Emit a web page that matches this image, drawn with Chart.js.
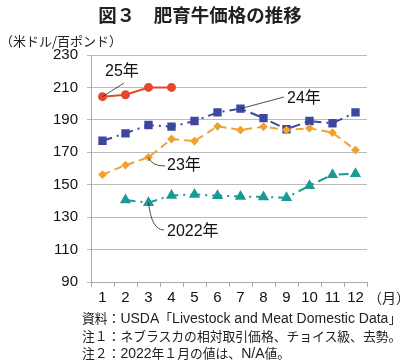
<!DOCTYPE html>
<html>
<head>
<meta charset="utf-8">
<script src="https://cdn.jsdelivr.net/npm/chart.js@4"></script>
<style>
  body { margin: 0; background: #fff; font-family: "Liberation Sans", "Noto Sans CJK JP", sans-serif; }
  #lienzo { position: relative; width: 400px; height: 364px; }
  canvas { position: absolute; left: 0; top: 0; }
  .texto { position: absolute; color: #222; white-space: nowrap; }
  .lat { font-family: "Liberation Sans", sans-serif; font-size: 14px; }
</style>
</head>
<body>
<div id="lienzo">
  <canvas id="graficoPrecios" width="400" height="364"></canvas>
  <div class="texto" style="left:0;width:400px;text-align:center;top:1px;font-size:18.5px;font-weight:bold;font-family:'Noto Sans CJK JP',sans-serif;">図３　肥育牛価格の推移</div>
  <div class="texto" style="left:0;top:31px;font-size:13px;font-family:'Noto Sans CJK JP',sans-serif;">（米ドル/百ポンド）</div>
  <div class="texto" style="left:368px;top:287px;font-size:14px;font-family:'Noto Sans CJK JP',sans-serif;">（月）</div>
  <div class="texto" style="left:82px;top:309px;font-size:12.8px;font-family:'Noto Sans CJK JP',sans-serif;line-height:17px;">
    資料：<span class="lat">USDA</span>「<span class="lat">Livestock and Meat Domestic Data</span>」<br>
    注１：ネブラスカの相対取引価格、チョイス級、去勢。<br>
    注２：<span class="lat">2022</span>年１月の値は、<span class="lat">N/A</span>値。
  </div>
</div>
<script>
// datos
const meses = ["1", "2", "3", "4", "5", "6", "7", "8", "9", "10", "11", "12"];
const valores2022 = [null, 140.5, 138.9, 143.4, 144.0, 143.2, 142.8, 142.4, 142.0, 149.4, 156.2, 156.8];
const valores2023 = [156.2, 162.1, 166.9, 178.2, 176.9, 186.0, 183.7, 185.8, 183.7, 184.8, 182.1, 171.4];
const valores2024 = [177.1, 181.7, 186.8, 185.8, 189.3, 194.6, 196.9, 191.1, 184.2, 189.3, 187.9, 194.6];
const valores2025 = [204.3, 205.5, 210.0, 210.0];
const ticksY = [90, 110, 130, 150, 170, 190, 210, 230];

// etiquetas con linea guia hacia un punto de la serie
const etiquetas = [
  { texto: "25年", serie: valores2025, i: 0, tx: 105, ty: 72, lx: 124, ly: 83 },
  { texto: "24年", serie: valores2024, i: 6, tx: 287, ty: 99, lx: 284, ly: 97 },
  { texto: "23年", serie: valores2023, i: 2, tx: 167, ty: 166, lx: 165, ly: 166, curva: true },
  { texto: "2022年", serie: valores2022, i: 2, tx: 167, ty: 232, lx: 164, ly: 230, curva: true }
];

const pluginEtiquetas = {
  id: "etiquetas",
  afterDatasetsDraw(chart) {
    const ctx = chart.ctx;
    const x = chart.scales.x;
    const y = chart.scales.y;
    ctx.save();
    ctx.strokeStyle = "#222";
    ctx.lineWidth = 0.8;
    ctx.fillStyle = "#111";
    ctx.font = "16px 'Liberation Sans', 'Noto Sans CJK JP', sans-serif";
    ctx.textBaseline = "middle";
    etiquetas.forEach((e) => {
      const px = x.getPixelForValue(e.i);
      const py = y.getPixelForValue(e.serie[e.i]);
      ctx.beginPath();
      ctx.moveTo(px, py);
      if (e.curva) {
        ctx.quadraticCurveTo(px + 3, e.ly, e.lx, e.ly);
      } else {
        ctx.lineTo(e.lx, e.ly);
      }
      ctx.stroke();
      ctx.fillText(e.texto, e.tx, e.ty);
    });
    ctx.restore();
  }
};

const datos = {
  labels: meses,
  datasets: [
    {
      label: "2022年",
      data: valores2022,
      borderColor: "#1b9a95",
      backgroundColor: "#1b9a95",
      borderWidth: 2,
      borderDash: [10, 5, 2, 5],
      pointStyle: "triangle",
      pointRadius: 4.5,
      tension: 0
    },
    {
      label: "23年",
      data: valores2023,
      borderColor: "#f0a22e",
      backgroundColor: "#f0a22e",
      borderWidth: 2,
      borderDash: [8, 5],
      pointStyle: "rectRot",
      pointRadius: 3,
      tension: 0
    },
    {
      label: "24年",
      data: valores2024,
      borderColor: "#3d47a0",
      backgroundColor: "#3d47a0",
      borderWidth: 2,
      borderDash: [10, 5, 2, 5],
      pointStyle: "rect",
      pointRadius: 4.5,
      tension: 0
    },
    {
      label: "25年",
      data: valores2025,
      borderColor: "#e5482c",
      backgroundColor: "#e5482c",
      borderWidth: 2,
      pointStyle: "circle",
      pointRadius: 3.5,
      tension: 0
    }
  ]
};

const config = {
  type: "line",
  data: datos,
  plugins: [pluginEtiquetas],
  options: {
    responsive: false,
    animation: false,
    layout: { padding: { left: 0, top: 55, right: 33, bottom: 57 } },
    plugins: {
      legend: { display: false },
      tooltip: { enabled: false }
    },
    scales: {
      x: {
        offset: true,
        grid: { offset: true, drawOnChartArea: false, drawTicks: true, tickLength: 5, color: "#aaa" },
        border: { color: "#aaa" },
        ticks: { color: "#111", font: { size: 15, family: "'Liberation Sans', sans-serif" }, padding: 2, maxRotation: 0 },
        afterFit: (escala) => { escala.height = 25; }
      },
      y: {
        min: 90,
        max: 230,
        afterBuildTicks: (escala) => { escala.ticks = ticksY.map((v) => ({ value: v })); },
        grid: { color: "#bbb", tickLength: 4 },
        border: { color: "#aaa" },
        ticks: { color: "#111", font: { size: 15, family: "'Liberation Sans', sans-serif" }, padding: 9 },
        afterFit: (escala) => { escala.width = 91; }
      }
    }
  }
};

new Chart(document.getElementById("graficoPrecios").getContext("2d"), config);
</script>
</body>
</html>
